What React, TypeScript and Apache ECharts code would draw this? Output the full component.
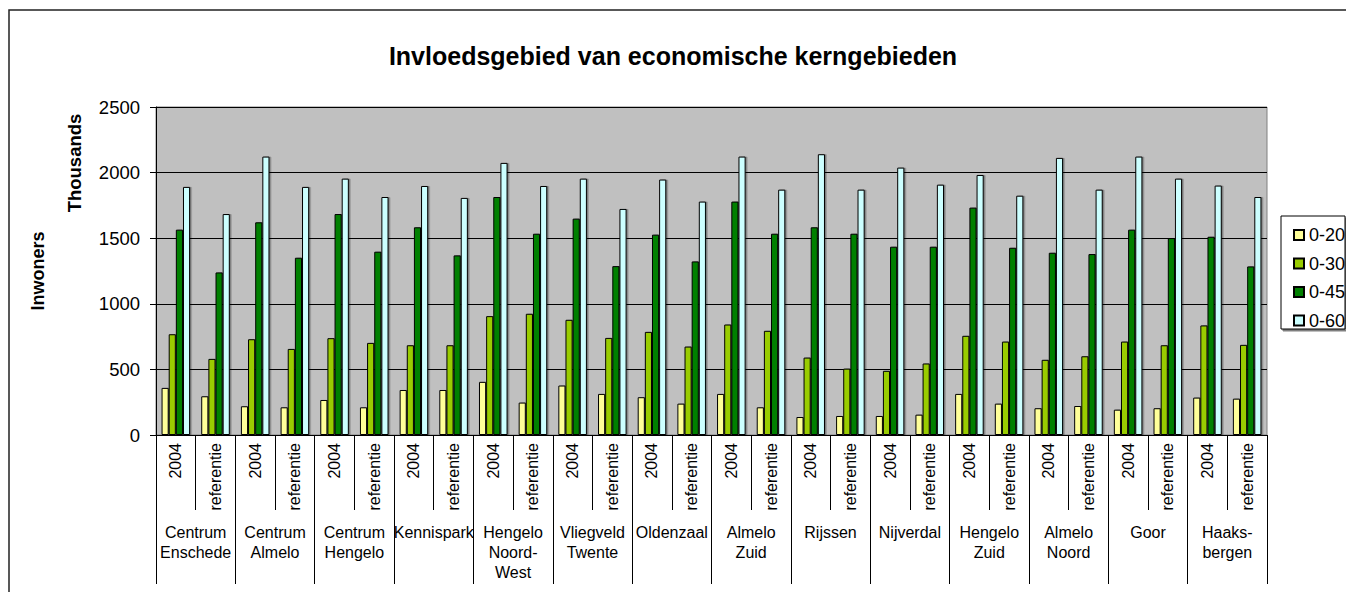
import React, { useEffect, useRef } from "react";
import * as echarts from "echarts";

const groups = [
  "Centrum\nEnschede", "Centrum\nAlmelo", "Centrum\nHengelo", "Kennispark",
  "Hengelo\nNoord-\nWest", "Vliegveld\nTwente", "Oldenzaal", "Almelo\nZuid",
  "Rijssen", "Nijverdal", "Hengelo\nZuid", "Almelo\nNoord", "Goor", "Haaks-\nbergen",
];
const subLabels = ["2004", "referentie"];
const seriesNames = ["0-20", "0-30", "0-45", "0-60"];
const seriesColors = ["#FFFF99", "#99CC00", "#008000", "#CCFFFF"];

const v020 = [359, 295, 219, 211, 267, 211, 343, 343, 405, 247, 377, 313, 288, 239, 313, 211, 137, 145, 145, 155, 313, 239, 204, 221, 193, 204, 285, 277];
const v030 = [768, 580, 730, 656, 738, 702, 684, 684, 906, 924, 878, 740, 786, 674, 842, 794, 590, 506, 489, 545, 756, 712, 573, 600, 712, 684, 835, 687];
const v045 = [1565, 1239, 1621, 1351, 1684, 1397, 1583, 1369, 1814, 1534, 1649, 1287, 1527, 1323, 1779, 1534, 1583, 1534, 1435, 1435, 1733, 1427, 1389, 1379, 1565, 1501, 1511, 1285];
const v060 = [1891, 1684, 2122, 1891, 1954, 1814, 1898, 1807, 2074, 1898, 1954, 1723, 1947, 1779, 2122, 1870, 2140, 1870, 2038, 1908, 1982, 1824, 2112, 1870, 2122, 1954, 1901, 1814];

const yTicks = { min: 0, max: 2500, interval: 500 };

const FONT = '"Liberation Sans", Arial, sans-serif';

export default function App() {
  const ref = useRef<HTMLDivElement>(null);
  useEffect(() => {
    if (!ref.current) return;
    const chart = echarts.init(ref.current, undefined, { renderer: "svg" });
    const subCats: string[] = [];
    groups.forEach(() => subLabels.forEach((s) => subCats.push(s)));
    const values = [v020, v030, v045, v060];
    chart.setOption({
      animation: false,
      backgroundColor: "#ffffff",
      textStyle: { fontFamily: FONT },
      title: {
        text: "Invloedsgebied van economische kerngebieden",
        left: "center",
        top: 38,
        textStyle: { fontSize: 25, fontWeight: "bold", color: "#000", fontFamily: FONT },
      },
      legend: {
        orient: "vertical",
        left: 1288,
        top: 221,
        itemWidth: 10,
        itemHeight: 10,
        itemGap: 10.5,
        icon: "rect",
        textStyle: { fontSize: 18, color: "#000", fontFamily: FONT, padding: [0, 0, 0, 0] },
        data: seriesNames,
      },
      grid: {
        left: 156,
        top: 107,
        width: 1111,
        height: 328,
        show: true,
        backgroundColor: "#C0C0C0",
        borderColor: "#808080",
        borderWidth: 1,
      },
      xAxis: [
        {
          type: "category",
          data: subCats,
          position: "bottom",
          axisLine: { show: true, lineStyle: { color: "#000", width: 1 } },
          axisTick: { show: true, interval: 0, length: 75, lineStyle: { color: "#000" } },
          axisLabel: { interval: 0, rotate: 90, fontSize: 16, color: "#000", margin: 8, fontFamily: FONT },
          splitLine: { show: false },
        },
        {
          type: "category",
          data: groups,
          position: "bottom",
          offset: 75,
          axisLine: { show: false },
          axisTick: { show: true, interval: 0, length: 74, lineStyle: { color: "#000" } },
          axisLabel: { interval: 0, fontSize: 16, color: "#000", margin: 12, lineHeight: 20, fontFamily: FONT },
          splitLine: { show: false },
        },
      ],
      yAxis: {
        type: "value",
        min: yTicks.min,
        max: yTicks.max,
        interval: yTicks.interval,
        name: "Inwoners",
        nameLocation: "middle",
        nameGap: 109,
        nameTextStyle: { fontSize: 18, fontWeight: "bold", color: "#000", fontFamily: FONT },
        axisLine: { show: true, lineStyle: { color: "#000" } },
        axisTick: { show: true, length: 6, lineStyle: { color: "#000" } },
        axisLabel: { fontSize: 18.5, color: "#000", margin: 16, fontFamily: FONT, formatter: (v: number) => String(v) },
        splitLine: { show: true, lineStyle: { color: "#000", width: 1 } },
      },
      series: seriesNames.map((name, i) => ({
        name,
        type: "bar",
        xAxisIndex: 0,
        data: values[i],
        barGap: "0%",
        barCategoryGap: "28%",
        itemStyle: {
          color: seriesColors[i],
          borderColor: "#000",
          borderWidth: 1,
          shadowColor: "rgba(0,0,0,0.35)",
          shadowOffsetX: 1.5,
          shadowOffsetY: 0,
          shadowBlur: 1,
        },
      })),
      graphic: [
        {
          type: "rect",
          shape: { x: 9, y: 10, width: 1400, height: 700 },
          style: { fill: "none", stroke: "#222", lineWidth: 1.5 },
          silent: true,
        },
        {
          type: "rect",
          shape: { x: 1281, y: 216, width: 64, height: 113 },
          style: { fill: "#fff", stroke: "#000", lineWidth: 1, shadowColor: "rgba(0,0,0,0.5)", shadowOffsetX: 2, shadowOffsetY: 2 },
          silent: true,
          z: 1,
        },
        {
          type: "text",
          x: 74,
          y: 163,
          rotation: Math.PI / 2,
          style: { text: "Thousands", fontSize: 18.5, fontWeight: "bold", fill: "#000", align: "center", verticalAlign: "middle", fontFamily: FONT },
          silent: true,
        },
      ],
    });
    return () => chart.dispose();
  }, []);
  return <div ref={ref} style={{ position: "fixed", left: 0, top: 0, width: 1346, height: 592 }} />;
}
